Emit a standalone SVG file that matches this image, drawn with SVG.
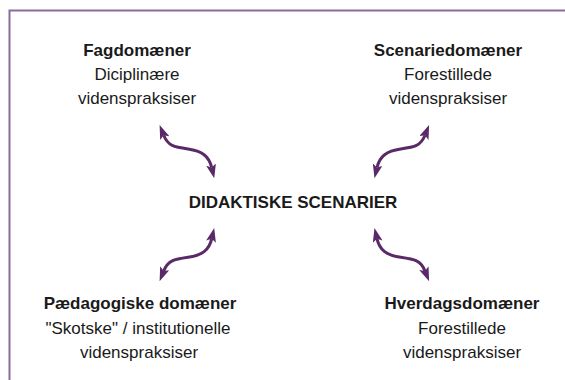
<svg xmlns="http://www.w3.org/2000/svg" width="565" height="380" viewBox="0 0 565 380">
<style>
text{font-family:"Liberation Sans",Arial,sans-serif;font-size:17px;fill:#1a1a1a;text-anchor:middle}
.b{font-weight:bold}
.frame{fill:none;stroke:#8c6a9c;stroke-width:2}
.arr{fill:none;stroke:#5a2a68;stroke-width:3;marker-start:url(#ah);marker-end:url(#ah)}
</style>
<defs>
<marker id="ah" viewBox="0 0 14 10" refX="3" refY="5" markerWidth="14" markerHeight="10" markerUnits="userSpaceOnUse" orient="auto-start-reverse">
<path d="M0,0 L14,5 L0,10 L3,5 z" fill="#5a2a68"/>
</marker>
</defs>
<rect width="565" height="380" fill="#fff"/>
<path class="frame" d="M9.5,380 V10.5 H565"/>
<g id="connectors">
<path class="arr" d="M163.7,135.3 C168,146 174,147 188,149 C202,151 209,156 211.7,167.5"/>
<path class="arr" d="M425,135.3 C420.7,146 414.7,147 400.7,149 C386.7,151 379.7,156 377,167.5"/>
<path class="arr" d="M163.7,271 C168,260.3 174,259.3 188,257.3 C202,255.3 209,250.3 211.7,238.8"/>
<path class="arr" d="M425,271 C420.7,260.3 414.7,259.3 400.7,257.3 C386.7,255.3 379.7,250.3 377,238.8"/>
</g>
<g id="fagdomaener">
<text class="b" x="137" y="55.5">Fagdomæner</text>
<text x="137" y="80">Diciplinære</text>
<text x="137" y="104">videnspraksiser</text>
</g>
<g id="scenariedomaener">
<text class="b" x="448" y="55.5">Scenariedomæner</text>
<text x="448" y="80">Forestillede</text>
<text x="448" y="104">videnspraksiser</text>
</g>
<g id="didaktiske">
<text class="b" x="293" y="208">DIDAKTISKE SCENARIER</text>
</g>
<g id="paedagogiske">
<text class="b" x="140" y="309">Pædagogiske domæner</text>
<text x="138" y="333.5">"Skotske" / institutionelle</text>
<text x="139" y="358">videnspraksiser</text>
</g>
<g id="hverdagsdomaener">
<text class="b" x="462" y="309">Hverdagsdomæner</text>
<text x="462" y="333.5">Forestillede</text>
<text x="462" y="358">videnspraksiser</text>
</g>
</svg>
